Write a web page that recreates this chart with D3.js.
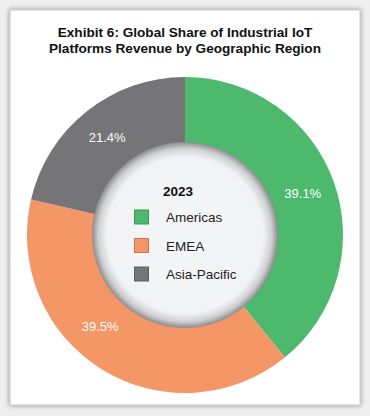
<!DOCTYPE html>
<html><head><meta charset="utf-8">
<script src="https://cdn.jsdelivr.net/npm/d3@7"></script>
<style>html,body{margin:0;padding:0;background:#efefef;}svg{display:block;}</style>
</head><body>
<script>
const categories = ["Americas", "EMEA", "Asia-Pacific"];
const values = [39.1, 39.5, 21.4];
const labels = ["39.1%", "39.5%", "21.4%"];
const colors = ["#4cb96c", "#f49665", "#757577"];
const legendTitle = "2023";
const titleLines = ["Exhibit 6: Global Share of Industrial IoT", "Platforms Revenue by Geographic Region"];

const W = 370, H = 416;
const svg = d3.select("body").append("svg").attr("width", W).attr("height", H);
const defs = svg.append("defs");

const f = defs.append("filter").attr("id", "frame").attr("x", "-5%").attr("y", "-5%").attr("width", "110%").attr("height", "110%");
f.append("feGaussianBlur").attr("in", "SourceAlpha").attr("stdDeviation", 2.5);
f.append("feComponentTransfer").append("feFuncA").attr("type", "linear").attr("slope", 0.45);
const fm = f.append("feMerge");
fm.append("feMergeNode");
fm.append("feMergeNode").attr("in", "SourceGraphic");

svg.append("rect").attr("width", W).attr("height", H).attr("fill", "#efefef");
svg.append("rect").attr("x", 10).attr("y", 10).attr("width", 350).attr("height", 395)
  .attr("fill", "#ffffff").attr("stroke", "#c8c8c8").attr("stroke-width", 1).attr("filter", "url(#frame)");

const title = svg.append("text").attr("text-anchor", "middle")
  .style("font-family", "Liberation Sans, Arial, sans-serif").style("font-weight", "bold")
  .style("font-size", "13.6px").attr("fill", "#111");
titleLines.forEach((t, i) => title.append("tspan").attr("x", 185).attr("y", 37 + i * 15.5).text(t));

const cx = 185, cy = 235, R = 158, r0 = 90;
const g = svg.append("g").attr("transform", `translate(${cx},${cy})`);
const pie = d3.pie().sort(null).value(d => d)(values);
const arc = d3.arc().innerRadius(r0).outerRadius(R);
g.selectAll("path.slice").data(pie).join("path").attr("class", "slice")
  .attr("d", arc).attr("fill", (d, i) => colors[i]);

const grad = defs.append("radialGradient").attr("id", "hole");
grad.append("stop").attr("offset", "0%").attr("stop-color", "#f4f5f7");
grad.append("stop").attr("offset", "84%").attr("stop-color", "#f2f3f5");
grad.append("stop").attr("offset", "93%").attr("stop-color", "#d0d1d3");
grad.append("stop").attr("offset", "100%").attr("stop-color", "#8c8c8e");
g.append("circle").attr("r", 93).attr("fill", "url(#hole)");

const labelArc = d3.arc().innerRadius(125).outerRadius(125);
const labelShift = [0, 0.19, 0];
g.selectAll("text.pct").data(pie).join("text").attr("class", "pct")
  .attr("transform", (d, i) => {
    const a = (d.startAngle + d.endAngle) / 2 + labelShift[i];
    return `translate(${labelArc.centroid({startAngle: a, endAngle: a})})`;
  })
  .attr("text-anchor", "middle").attr("dy", "0.35em")
  .style("font-family", "Liberation Sans, Arial, sans-serif").style("font-size", "13px")
  .attr("fill", "#ffffff").text((d, i) => labels[i]);

const lg = svg.append("g");
lg.append("text").attr("x", 178).attr("y", 196).attr("text-anchor", "middle")
  .style("font-family", "Liberation Sans, Arial, sans-serif").style("font-weight", "bold")
  .style("font-size", "13.5px").attr("fill", "#111").text(legendTitle);
const rowY = d3.scalePoint().domain(categories).range([217, 274]);
const rows = lg.selectAll("g.row").data(categories).join("g").attr("class", "row")
  .attr("transform", d => `translate(0,${rowY(d)})`);
rows.append("rect").attr("x", 134.5).attr("y", -7).attr("width", 14).attr("height", 14)
  .attr("fill", (d, i) => colors[i]).attr("stroke", (d, i) => d3.color(colors[i]).darker(0.6)).attr("stroke-width", 1);
rows.append("text").attr("x", 166).attr("y", 5)
  .style("font-family", "Liberation Sans, Arial, sans-serif").style("font-size", "13.5px")
  .attr("fill", "#222").text(d => d);
</script>
</body></html>
